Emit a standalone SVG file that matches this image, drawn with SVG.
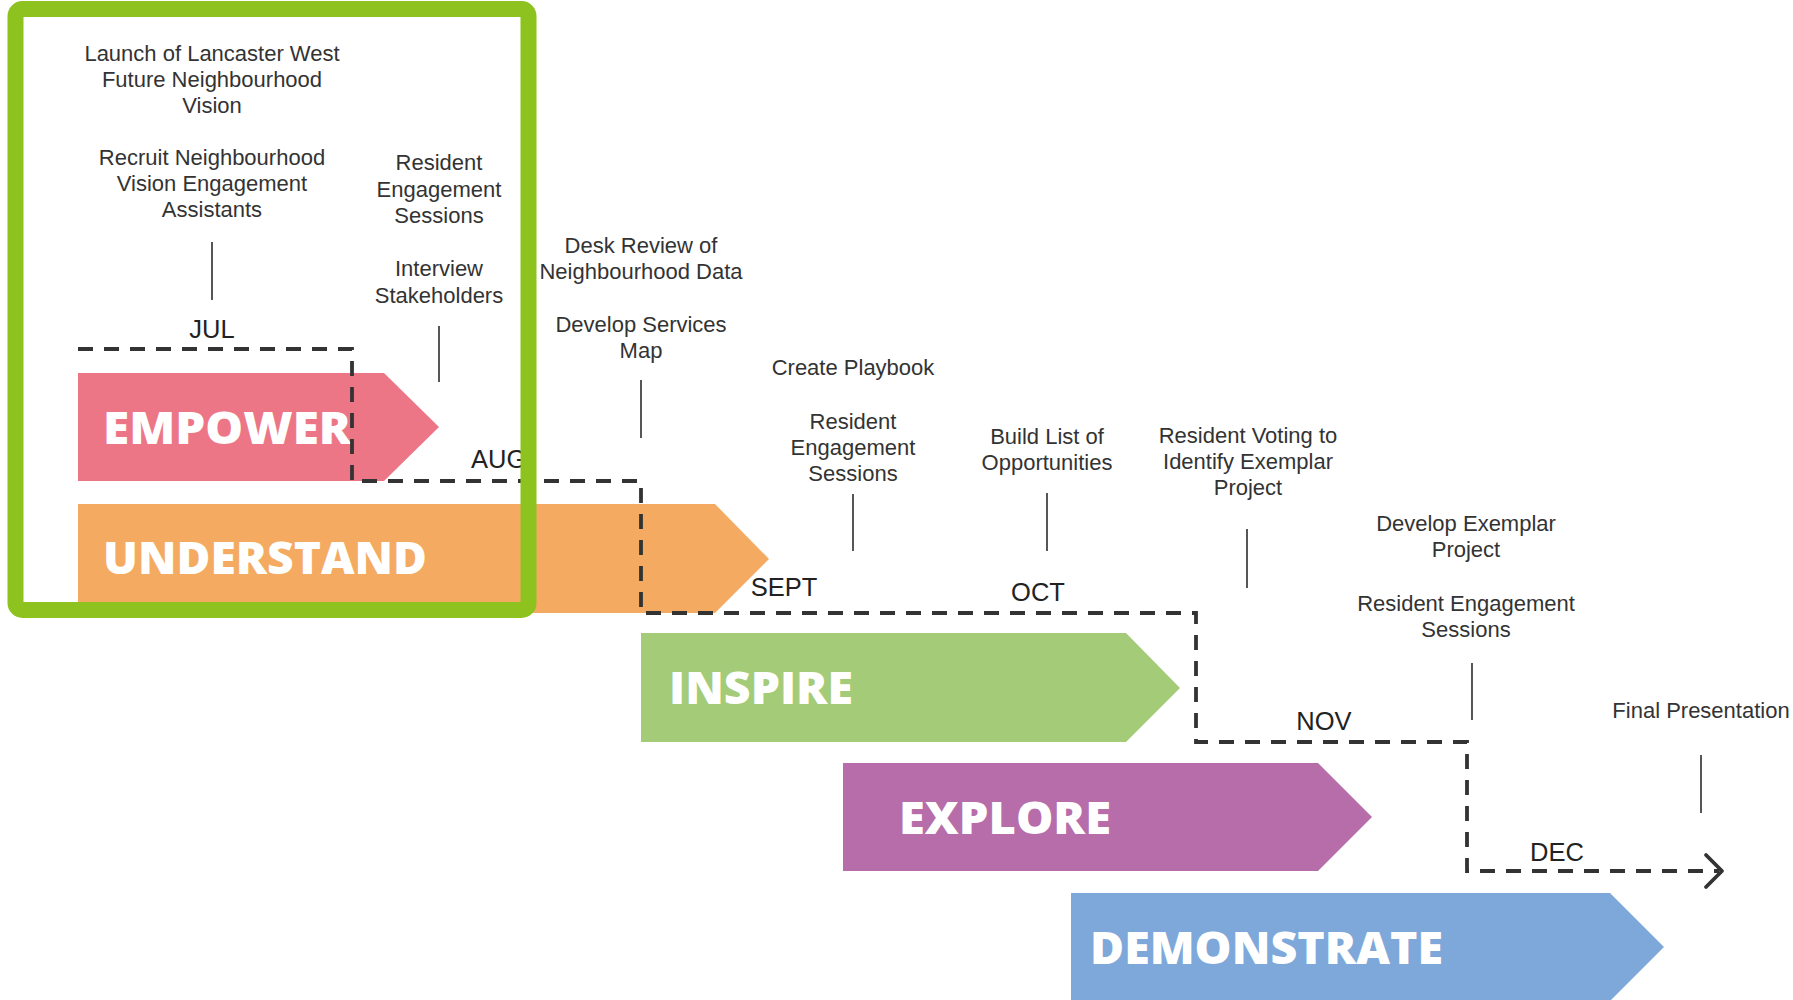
<svg xmlns="http://www.w3.org/2000/svg" width="1793" height="1000" viewBox="0 0 1793 1000">
<style>
.lbl{font-family:"Liberation Sans",Arial,sans-serif;font-size:22px;fill:#333;text-anchor:middle}
.mon{font-family:"Liberation Sans",Arial,sans-serif;font-size:25.5px;fill:#222;text-anchor:middle}
.big{font-family:"Open Sans","Lato",sans-serif;font-weight:800;font-size:45px;fill:#fff}
.tick{stroke:#444;stroke-width:1.8;fill:none}
.dash{stroke:#333;stroke-width:3.8;fill:none;stroke-dasharray:15 11}
</style>
<rect width="1793" height="1000" fill="#fff"/>

<g id="phase-empower">
<polygon points="78,373 384,373 439,427 384,481 78,481" fill="#EC7686"/>
<text class="big" x="103" y="444" textLength="248" lengthAdjust="spacingAndGlyphs">EMPOWER</text>
</g>
<g id="phase-understand">
<polygon points="78,504 715,504 769,559 715,613 78,613" fill="#F4AA61"/>
<text class="big" x="103" y="574" textLength="324" lengthAdjust="spacingAndGlyphs">UNDERSTAND</text>
</g>
<g id="phase-inspire">
<polygon points="641,633 1126,633 1180,688 1126,742 641,742" fill="#A4CB78"/>
<text class="big" x="669" y="704" textLength="184" lengthAdjust="spacingAndGlyphs">INSPIRE</text>
</g>
<g id="phase-explore">
<polygon points="843,763 1318,763 1372,817 1318,871 843,871" fill="#B66DA9"/>
<text class="big" x="899" y="834" textLength="212" lengthAdjust="spacingAndGlyphs">EXPLORE</text>
</g>
<g id="phase-demonstrate">
<polygon points="1071,893 1610,893 1664,947 1610,1001 1071,1001" fill="#7EA8D9"/>
<text class="big" x="1090" y="964" textLength="353" lengthAdjust="spacingAndGlyphs">DEMONSTRATE</text>
</g>

<g id="connectors">
<path class="dash" d="M78,349 H352 V481 H641 V613 H1196 V742 H1467 V871 H1719"/>
<polyline points="1706,855 1722,871 1706,887" fill="none" stroke="#333" stroke-width="3.8" stroke-linecap="round" stroke-linejoin="round"/>
<line class="tick" x1="212" y1="242" x2="212" y2="300"/>
<line class="tick" x1="439" y1="326" x2="439" y2="382"/>
<line class="tick" x1="641" y1="380" x2="641" y2="438"/>
<line class="tick" x1="853" y1="494" x2="853" y2="551"/>
<line class="tick" x1="1047" y1="493" x2="1047" y2="551"/>
<line class="tick" x1="1247" y1="529" x2="1247" y2="588"/>
<line class="tick" x1="1472" y1="663" x2="1472" y2="720"/>
<line class="tick" x1="1701" y1="755" x2="1701" y2="813"/>
</g>

<g id="months">
<text class="mon" x="212" y="338">JUL</text>
<text class="mon" x="471" y="468" style="text-anchor:start">AUG</text>
<text class="mon" x="784" y="596">SEPT</text>
<text class="mon" x="1038" y="601">OCT</text>
<text class="mon" x="1324" y="730">NOV</text>
<text class="mon" x="1557" y="861">DEC</text>
</g>

<g id="task-launch"><text class="lbl" x="212" y="61">Launch of Lancaster West</text><text class="lbl" x="212" y="87">Future Neighbourhood</text><text class="lbl" x="212" y="113">Vision</text></g>
<g id="task-recruit"><text class="lbl" x="212" y="165">Recruit Neighbourhood</text><text class="lbl" x="212" y="191">Vision Engagement</text><text class="lbl" x="212" y="217">Assistants</text></g>
<g id="task-res-eng-1"><text class="lbl" x="439" y="170">Resident</text><text class="lbl" x="439" y="197">Engagement</text><text class="lbl" x="439" y="223">Sessions</text></g>
<g id="task-interview"><text class="lbl" x="439" y="276">Interview</text><text class="lbl" x="439" y="303">Stakeholders</text></g>
<g id="task-desk"><text class="lbl" x="641" y="253">Desk Review of</text><text class="lbl" x="641" y="279">Neighbourhood Data</text></g>
<g id="task-services"><text class="lbl" x="641" y="332">Develop Services</text><text class="lbl" x="641" y="358">Map</text></g>
<g id="task-playbook"><text class="lbl" x="853" y="375">Create Playbook</text></g>
<g id="task-res-eng-2"><text class="lbl" x="853" y="429">Resident</text><text class="lbl" x="853" y="455">Engagement</text><text class="lbl" x="853" y="481">Sessions</text></g>
<g id="task-build"><text class="lbl" x="1047" y="444">Build List of</text><text class="lbl" x="1047" y="470">Opportunities</text></g>
<g id="task-voting"><text class="lbl" x="1248" y="443">Resident Voting to</text><text class="lbl" x="1248" y="469">Identify Exemplar</text><text class="lbl" x="1248" y="495">Project</text></g>
<g id="task-exemplar"><text class="lbl" x="1466" y="531">Develop Exemplar</text><text class="lbl" x="1466" y="557">Project</text></g>
<g id="task-res-eng-3"><text class="lbl" x="1466" y="611">Resident Engagement</text><text class="lbl" x="1466" y="637">Sessions</text></g>
<g id="task-final"><text class="lbl" x="1701" y="718">Final Presentation</text></g>

<g id="highlight-frame">
<rect x="15.5" y="9" width="513" height="601" rx="7" fill="none" stroke="#8DC21F" stroke-width="16"/>
</g>
</svg>
